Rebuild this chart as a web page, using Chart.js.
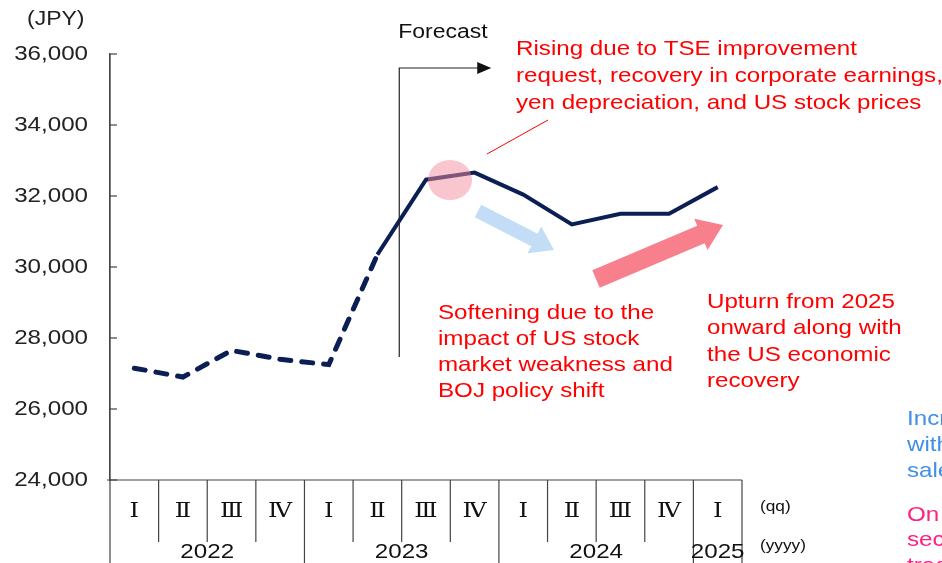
<!DOCTYPE html>
<html>
<head>
<meta charset="utf-8">
<script src="https://cdn.jsdelivr.net/npm/chart.js@4"></script>
<style>
  html, body { margin: 0; padding: 0; background: #fff; }
  #wrap { width: 942px; height: 563px; }
</style>
</head>
<body>
<div id="wrap"><canvas id="c" width="942" height="563"></canvas></div>
<script>
// quarters / years on the x axis
const quarters = ['Ⅰ', 'Ⅱ', 'Ⅲ', 'Ⅳ', 'Ⅰ', 'Ⅱ', 'Ⅲ', 'Ⅳ', 'Ⅰ', 'Ⅱ', 'Ⅲ', 'Ⅳ', 'Ⅰ'];
const years = ['2022', '2022', '2022', '2022', '2023', '2023', '2023', '2023', '2024', '2024', '2024', '2024', '2025'];
// Nikkei average (JPY), actual then forecast
const nikkei = [27150, 26900, 27650, 27400, 27250, 30350, 32460, 32660, 32040, 31200, 31500, 31500, 32250];
const lastDashed = 5; // dashed up to 2023 Q2
const yTicks = [24000, 26000, 28000, 30000, 32000, 34000, 36000];

const FONT = 'Arial, "Liberation Sans", sans-serif';
const RED = '#ff0000';
const SX = 1.15; // the source picture is a bit wide

function txt(ctx, t, x, y, align) {
  ctx.save();
  ctx.translate(x, y);
  ctx.scale(SX, 1);
  ctx.textAlign = align || 'left';
  ctx.textBaseline = 'middle';
  ctx.fillText(t, 0, 0);
  ctx.restore();
}

function arrow(ctx, x0, y0, x1, y1, shaft, head, headLen, color) {
  const a = Math.atan2(y1 - y0, x1 - x0);
  const len = Math.hypot(x1 - x0, y1 - y0);
  ctx.save();
  ctx.translate(x0, y0);
  ctx.rotate(a);
  ctx.fillStyle = color;
  ctx.beginPath();
  ctx.moveTo(0, -shaft / 2);
  ctx.lineTo(len - headLen, -shaft / 2);
  ctx.lineTo(len - headLen, -head / 2);
  ctx.lineTo(len, 0);
  ctx.lineTo(len - headLen, head / 2);
  ctx.lineTo(len - headLen, shaft / 2);
  ctx.lineTo(0, shaft / 2);
  ctx.closePath();
  ctx.fill();
  ctx.restore();
}

function lines(ctx, arr, x, y0, step, color) {
  ctx.fillStyle = color;
  ctx.font = '21px ' + FONT;
  arr.forEach((t, i) => txt(ctx, t, x, y0 + i * step));
}

const extras = {
  id: 'extras',
  afterDatasetsDraw(chart) {
    const ctx = chart.ctx;
    const xs = chart.scales.x, ys = chart.scales.y;
    const area = chart.chartArea;
    const cw = (xs.getPixelForValue(1) - xs.getPixelForValue(0));
    ctx.save();

    // y axis inner ticks and labels
    ctx.strokeStyle = '#444';
    ctx.lineWidth = 1.2;
    ctx.fillStyle = '#222';
    ctx.font = '21px ' + FONT;
    yTicks.forEach(v => {
      const y = ys.getPixelForValue(v);
      ctx.beginPath(); ctx.moveTo(area.left, y); ctx.lineTo(area.left + 7, y); ctx.stroke();
      txt(ctx, v.toLocaleString('en-US'), 88, y, 'right');
    });
    // left axis continues down through the table
    ctx.beginPath(); ctx.moveTo(area.left, area.top); ctx.lineTo(area.left, 563); ctx.stroke();

    // x axis table
    ctx.beginPath(); ctx.moveTo(area.left - 3, area.bottom); ctx.lineTo(area.right, area.bottom); ctx.stroke();
    for (let i = 1; i <= quarters.length; i++) {
      const x = xs.getPixelForValue(i - 0.5);
      const yearEdge = i === quarters.length || years[i] !== years[i - 1];
      ctx.beginPath(); ctx.moveTo(x, area.bottom); ctx.lineTo(x, yearEdge ? 563 : 542); ctx.stroke();
    }
    ctx.fillStyle = '#111';
    ctx.font = '21px "Liberation Serif", "DejaVu Serif", serif';
    quarters.forEach((q, i) => txt(ctx, q, xs.getPixelForValue(i), 511, 'center'));
    ctx.font = '21px ' + FONT;
    const seen = [...new Set(years)];
    seen.forEach(yr => {
      const idx = years.map((v, i) => v === yr ? i : -1).filter(i => i >= 0);
      const cx = (xs.getPixelForValue(idx[0]) + xs.getPixelForValue(idx[idx.length - 1])) / 2;
      txt(ctx, yr, cx, 552, 'center');
    });
    ctx.font = '15px ' + FONT;
    txt(ctx, '(qq)', 760, 507);
    txt(ctx, '(yyyy)', 760, 546);

    // (JPY)
    ctx.font = '20px ' + FONT;
    ctx.fillStyle = '#222';
    txt(ctx, '(JPY)', 27, 19);

    // forecast marker
    const fx = area.left + cw * 5.95;
    ctx.strokeStyle = '#222';
    ctx.lineWidth = 1.2;
    ctx.beginPath(); ctx.moveTo(fx, 357); ctx.lineTo(fx, 68); ctx.lineTo(fx + 80, 68); ctx.stroke();
    ctx.fillStyle = '#111';
    ctx.beginPath(); ctx.moveTo(fx + 78, 62); ctx.lineTo(fx + 92, 68); ctx.lineTo(fx + 78, 74); ctx.closePath(); ctx.fill();
    ctx.font = '20px ' + FONT;
    txt(ctx, 'Forecast', fx - 1, 32);

    // highlight circle
    ctx.fillStyle = 'rgba(244, 140, 160, 0.5)';
    ctx.beginPath(); ctx.ellipse(450, 180, 22, 20, 0, 0, Math.PI * 2); ctx.fill();

    // arrows
    arrow(ctx, 478, 211, 554, 250, 14, 30, 22, '#c3ddf7');
    arrow(ctx, 596, 279, 723, 225, 19, 34, 24, '#f7808c');

    // leader line
    ctx.strokeStyle = RED;
    ctx.lineWidth = 1;
    ctx.beginPath(); ctx.moveTo(487, 154); ctx.lineTo(548, 120); ctx.stroke();

    // notes
    lines(ctx, ['Rising due to TSE improvement', 'request, recovery in corporate earnings,',
      'yen depreciation, and US stock prices'], 516, 49, 27, RED);
    lines(ctx, ['Softening due to the', 'impact of US stock', 'market weakness and', 'BOJ policy shift'],
      438, 313, 26, RED);
    lines(ctx, ['Upturn from 2025', 'onward along with', 'the US economic', 'recovery'], 707, 302, 26.5, RED);
    lines(ctx, ['Increase', 'with', 'sales'], 907, 419, 26, '#3f8fe8');
    lines(ctx, ['On', 'second', 'trade'], 907, 515, 25.5, '#ff2080');

    ctx.restore();
  }
};

new Chart(document.getElementById('c'), {
  type: 'line',
  data: {
    labels: quarters,
    datasets: [{
      data: nikkei,
      borderColor: '#0b1f55',
      borderWidth: 4,
      pointRadius: 0,
      tension: 0,
      segment: {
        borderDash: c => c.p1DataIndex <= lastDashed ? [11, 11] : undefined,
        borderWidth: c => c.p1DataIndex <= lastDashed ? 5 : 4,
        borderCapStyle: c => c.p1DataIndex <= lastDashed ? 'round' : 'butt'
      }
    }]
  },
  options: {
    responsive: false,
    animation: false,
    events: [],
    layout: { padding: { top: 54, bottom: 83, left: 0, right: 200 } },
    plugins: { legend: { display: false }, tooltip: { enabled: false } },
    scales: {
      x: { display: false, offset: true },
      y: {
        min: 24000, max: 36000,
        afterFit: s => { s.width = 110; },
        ticks: { stepSize: 2000, display: false },
        grid: { display: false, drawTicks: false },
        border: { display: true, color: '#444', width: 1.2 }
      }
    }
  },
  plugins: [extras]
});
</script>
</body>
</html>
